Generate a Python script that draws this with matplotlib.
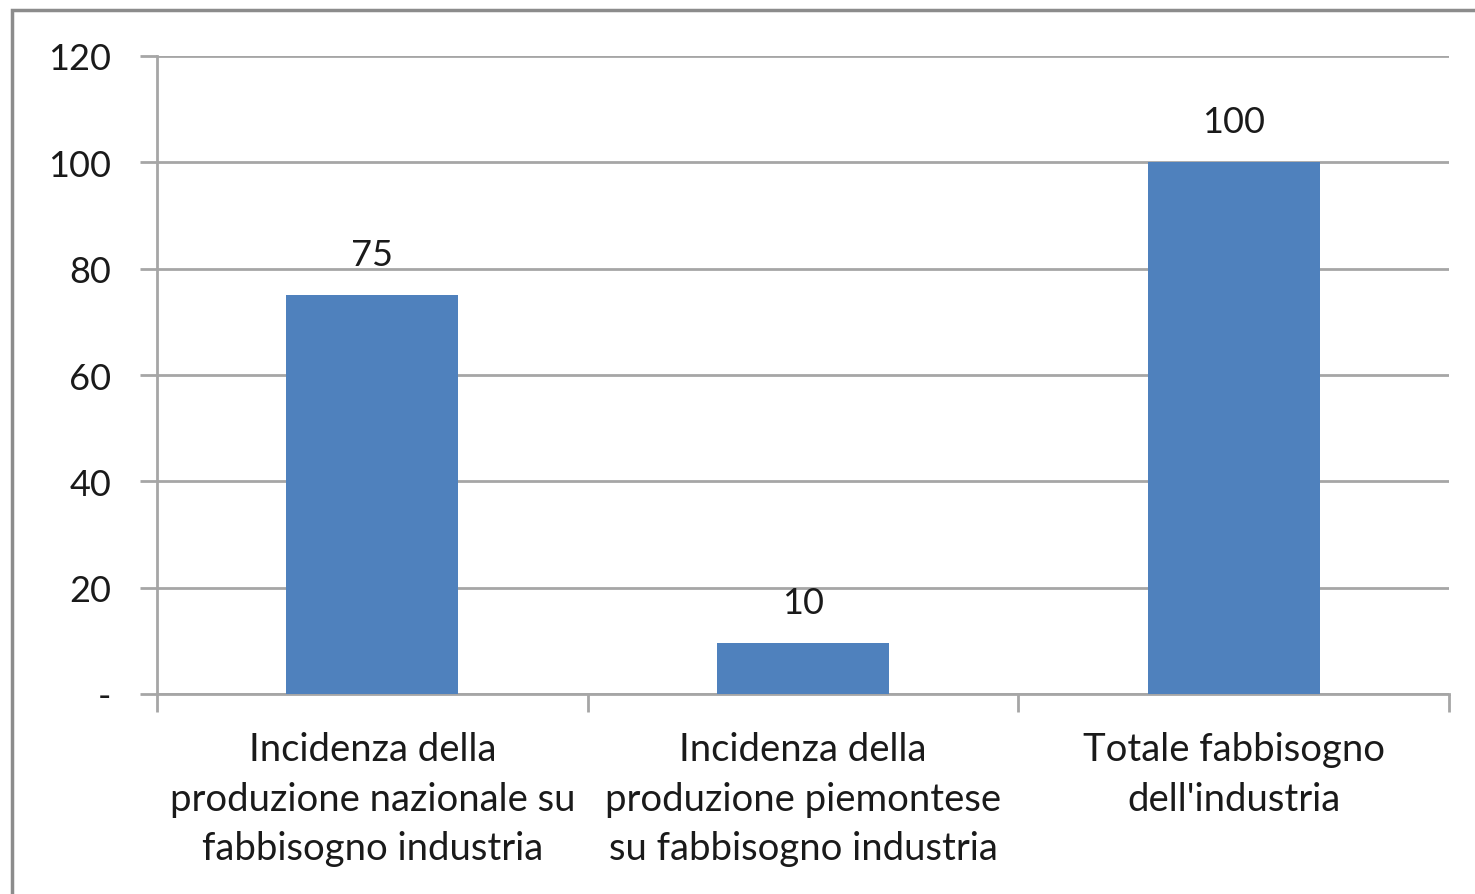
import numpy as np
import matplotlib.pyplot as plt
from matplotlib.patches import Rectangle

categorie = ["Incidenza della\nproduzione nazionale su\nfabbisogno industria",
             "Incidenza della\nproduzione piemontese\nsu fabbisogno industria",
             "Totale fabbisogno\ndell'industria"]
valori = [75, 9.6, 100]
y_ticks = [0, 20, 40, 60, 80, 100, 120]
y_labels = ["-", "20", "40", "60", "80", "100", "120"]

plt.rcParams['font.family'] = ['Lato', 'DejaVu Sans']
grigio = '#a6a6a6'
nero = '#1a1a1a'

fig = plt.figure(figsize=(14.75, 8.95), dpi=100)
ax = fig.add_axes([157/1475, 1-695/895, (1449-157)/1475, (695-57)/895])

x = np.arange(len(categorie))
bars = ax.bar(x, valori, width=0.4, color='#4f81bd', zorder=3)
for b, v in zip(bars, valori):
    ax.text(b.get_x() + b.get_width()/2, v + 4.5, f"{v:.0f}", ha='center', va='bottom',
            fontsize=26, color=nero)

ax.set_xlim(-0.5, len(categorie) - 0.5)
ax.set_ylim(0, 120)
ax.set_yticks(y_ticks)
ax.set_yticklabels(y_labels, fontsize=26, color=nero)
ax.yaxis.grid(True, color=grigio, linewidth=2, zorder=0)

ax.set_xticks(x)
ax.set_xticklabels(categorie, fontsize=27.5, color=nero, linespacing=1.45)
ax.tick_params(axis='x', length=0, pad=27)
ax.set_xticks(np.arange(len(categorie) + 1) - 0.5, minor=True)
ax.tick_params(axis='x', which='minor', length=13, width=2, color=grigio)
ax.tick_params(axis='y', length=12, width=2, color=grigio, pad=21)

for s in ['top', 'right']:
    ax.spines[s].set_visible(False)
for s in ['left', 'bottom']:
    ax.spines[s].set_color(grigio)
    ax.spines[s].set_linewidth(2)

# cornice esterna del grafico
fig.patches.append(Rectangle((12/1475, -0.1), 1.2, (895-11)/895 + 0.1,
                             transform=fig.transFigure, fill=False,
                             edgecolor='#8c8c8c', linewidth=2.5))

fig.savefig('out.png', dpi=100)
